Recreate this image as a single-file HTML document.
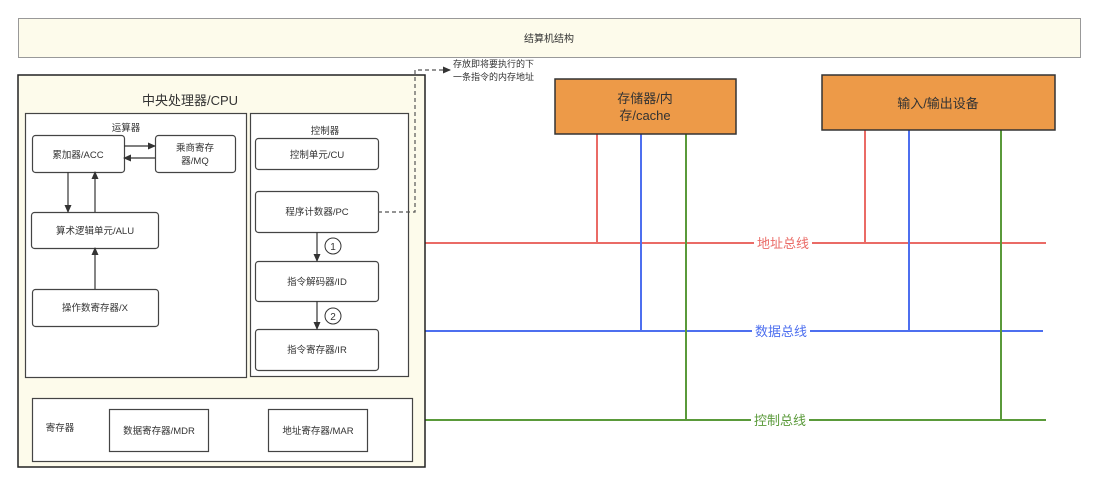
<!DOCTYPE html>
<html><head><meta charset="utf-8"><style>
html,body{margin:0;padding:0;background:#fff}
svg{display:block}
text{font-family:"Liberation Sans","Noto Sans CJK SC",sans-serif;fill:#333}
</style></head><body>
<svg width="1098" height="485" viewBox="0 0 1098 485" xmlns="http://www.w3.org/2000/svg">
<defs>
<marker id="a" markerWidth="8" markerHeight="8" refX="7" refY="4" orient="auto" markerUnits="userSpaceOnUse"><path d="M0,0.5 L8,4 L0,7.5 Z" fill="#333"/></marker>
</defs>
<rect x="18.5" y="18.5" width="1062" height="39" fill="#fdfbeb" stroke="#999"/>
<text x="549" y="42" font-size="10" text-anchor="middle">结算机结构</text>

<!-- buses -->
<g stroke-width="2" fill="none">
<line x1="425" y1="243" x2="1046" y2="243" stroke="#ea6b66"/>
<line x1="425" y1="331" x2="1043" y2="331" stroke="#4d6fef"/>
<line x1="425" y1="420" x2="1046" y2="420" stroke="#5a9a3a"/>
<line x1="597" y1="134" x2="597" y2="243" stroke="#ea6b66"/>
<line x1="641" y1="134" x2="641" y2="331" stroke="#4d6fef"/>
<line x1="686" y1="134" x2="686" y2="420" stroke="#5a9a3a"/>
<line x1="865" y1="130" x2="865" y2="243" stroke="#ea6b66"/>
<line x1="909" y1="130" x2="909" y2="331" stroke="#4d6fef"/>
<line x1="1001" y1="130" x2="1001" y2="420" stroke="#5a9a3a"/>
</g>
<rect x="754" y="235" width="58" height="16" fill="#fff"/>
<text x="783" y="248" font-size="13" text-anchor="middle" style="fill:#ea6b66">地址总线</text>
<rect x="752" y="323" width="58" height="16" fill="#fff"/>
<text x="781" y="336" font-size="13" text-anchor="middle" style="fill:#4d6fef">数据总线</text>
<rect x="751" y="412" width="58" height="16" fill="#fff"/>
<text x="780" y="425" font-size="13" text-anchor="middle" style="fill:#5a9a3a">控制总线</text>

<rect x="555" y="79" width="181" height="55" fill="#ed9a48" stroke="#333" stroke-width="1.5"/>
<text x="645" y="103" font-size="13" text-anchor="middle">存储器/内</text>
<text x="645" y="120" font-size="13" text-anchor="middle">存/cache</text>
<rect x="822" y="75" width="233" height="55" fill="#ed9a48" stroke="#333" stroke-width="1.5"/>
<text x="938" y="108" font-size="13" text-anchor="middle">输入/输出设备</text>

<!-- CPU -->
<rect x="18" y="75" width="407" height="392" fill="#fdfbeb" stroke="#222" stroke-width="1.5"/>
<text x="190" y="105" font-size="13" text-anchor="middle">中央处理器/CPU</text>
<g fill="#fff" stroke="#444" stroke-width="1.2">
<rect x="25.5" y="113.5" width="221" height="264"/>
<rect x="250.5" y="113.5" width="158" height="263"/>
<rect x="32.5" y="135.5" width="92" height="37" rx="3"/>
<rect x="155.5" y="135.5" width="80" height="37" rx="3"/>
<rect x="31.5" y="212.5" width="127" height="36" rx="3"/>
<rect x="32.5" y="289.5" width="126" height="37" rx="3"/>
<rect x="255.5" y="138.5" width="123" height="31" rx="3"/>
<rect x="255.5" y="191.5" width="123" height="41" rx="3"/>
<rect x="255.5" y="261.5" width="123" height="40" rx="3"/>
<rect x="255.5" y="329.5" width="123" height="41" rx="3"/>
<rect x="32.5" y="398.5" width="380" height="63"/>
<rect x="109.5" y="409.5" width="99" height="42"/>
<rect x="268.5" y="409.5" width="99" height="42"/>
</g>
<g font-size="9.5" text-anchor="middle">
<text x="126" y="131">运算器</text>
<text x="325" y="134">控制器</text>
<text x="78" y="158">累加器/ACC</text>
<text x="195" y="151">乘商寄存</text>
<text x="195" y="164">器/MQ</text>
<text x="95" y="234">算术逻辑单元/ALU</text>
<text x="95" y="311">操作数寄存器/X</text>
<text x="317" y="158">控制单元/CU</text>
<text x="317" y="215">程序计数器/PC</text>
<text x="317" y="285">指令解码器/ID</text>
<text x="317" y="353">指令寄存器/IR</text>
<text x="60" y="431">寄存器</text>
<text x="159" y="434">数据寄存器/MDR</text>
<text x="318" y="434">地址寄存器/MAR</text>
</g>
<g stroke="#333" stroke-width="1.2" marker-end="url(#a)">
<line x1="124" y1="146" x2="155" y2="146"/>
<line x1="155" y1="158" x2="124" y2="158"/>
<line x1="68" y1="172" x2="68" y2="212"/>
<line x1="95" y1="212" x2="95" y2="172"/>
<line x1="95" y1="289" x2="95" y2="248"/>
<line x1="317" y1="232" x2="317" y2="261"/>
<line x1="317" y1="301" x2="317" y2="329"/>
</g>
<g fill="#fff" stroke="#333" stroke-width="1">
<circle cx="333" cy="246" r="8"/>
<circle cx="333" cy="316" r="8"/>
</g>
<text x="333" y="250" font-size="10" text-anchor="middle">1</text>
<text x="333" y="320" font-size="10" text-anchor="middle">2</text>
<polyline points="378,212 415,212 415,70 450,70" fill="none" stroke="#555" stroke-width="1.2" stroke-dasharray="4,3" marker-end="url(#a)"/>
<text x="453" y="67" font-size="9">存放即将要执行的下</text>
<text x="453" y="80" font-size="9">一条指令的内存地址</text>
</svg>
</body></html>
